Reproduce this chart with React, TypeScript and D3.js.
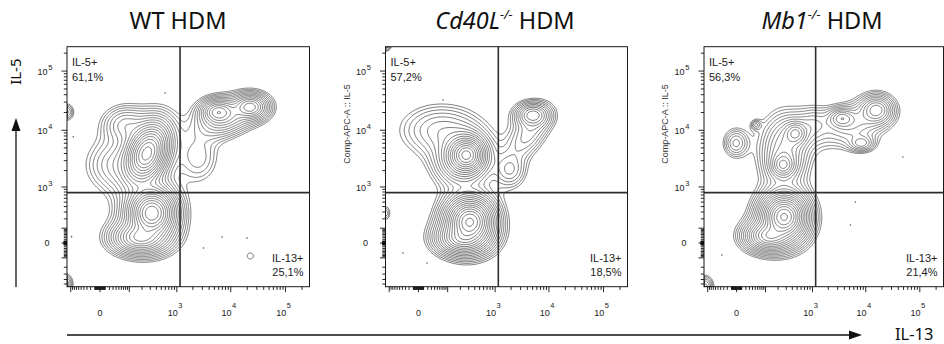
import { useMemo } from 'react'
import * as d3 from 'd3'

const W = 944
const H = 344

// biexponential channel display, approximated with a symlog scale
const IL13_DOMAIN = [-124, 274000]
const IL5_DOMAIN = [-570, 257000]
const IL13_CONST = 41.3
const IL5_CONST = 129

const GATE_IL13 = 1150
const GATE_IL5 = 780

const TITLES = ['WT', 'Cd40L', 'Mb1']
const IL5_PCT = ['61,1%', '57,2%', '56,3%']
const IL13_PCT = ['25,1%', '18,5%', '21,4%']
const Y_TITLES = ['', 'Comp-APC-A :: IL-5', 'Comp-APC-A :: IL-5']
const LABELLED_TICKS = [0, 1e3, 1e4, 1e5]

// populations: [IL-13, IL-5, sd IL-13 (decades), sd IL-5 (decades), correlation, relative density]
const WT_POPS = [
  [254, 4000, 0.155, 0.195, 0.3, 1.0],
  [36, 2510, 0.3, 0.25, 0, 0.035],
  [77, 12300, 0.22, 0.17, 0, 0.05],
  [323, 283, 0.165, 0.16, 0, 1.1],
  [181, 30, 0.22, 0.12, 0, 0.3],
  [5890, 20400, 0.15, 0.1, 0, 0.2],
  [22760, 24800, 0.15, 0.1, 0, 0.2],
  [7920, 14900, 0.29, 0.17, 0.4, 0.06],
  [2515, 3330, 0.22, 0.25, 0, 0.025],
  [-124, 20400, 0.075, 0.085, 0, 0.03],
  [-131, -501, 0.075, 0.1, 0, 0.035],
  [22760, -84, 0.09, 0.085, 0, 0.012],
]
const CD40L_POPS = [
  [270, 3760, 0.137, 0.126, 0, 0.7],
  [317, 165, 0.165, 0.155, 0, 1.2],
  [216, 25, 0.2, 0.115, 0, 0.3],
  [61, 10100, 0.4, 0.235, 0, 0.04],
  [196, 3070, 0.24, 0.22, 0, 0.08],
  [5040, 18100, 0.15, 0.1, 0, 0.12],
  [4105, 8300, 0.22, 0.235, 0.5, 0.04],
  [1904, 2050, 0.165, 0.17, 0, 0.035],
  [-121, 274000, 0.064, 0.067, 0, 0.03],
  [-124, 283, 0.064, 0.085, 0, 0.02],
]
const MB1_POPS = [
  [270, 228, 0.16, 0.15, 0, 1.2],
  [124, 40, 0.19, 0.11, 0, 0.35],
  [257, 2510, 0.11, 0.1, 0, 0.15],
  [468, 8880, 0.11, 0.1, 0, 0.12],
  [270, 4590, 0.22, 0.3, 0, 0.08],
  [-1, 6050, 0.13, 0.135, 0, 0.04],
  [53, 12300, 0.055, 0.05, 0, 0.025],
  [3585, 15960, 0.13, 0.085, 0, 0.08],
  [15780, 22050, 0.15, 0.12, 0, 0.12],
  [8370, 5990, 0.13, 0.076, 0, 0.05],
  [5890, 12300, 0.33, 0.2, 0.3, 0.04],
  [1060, 12300, 0.18, 0.17, 0, 0.03],
  [-117, -552, 0.09, 0.1, 0, 0.04],
]

// single outlying events: [IL-13, IL-5]
const WT_EVENTS = [[6890, 34], [19800, 27], [3150, -27], [-86, 7770], [596, 42700], [-95, 36]]
const CD40L_EVENTS = [[-38, -61], [18, -151], [75, 32500]]
const MB1_EVENTS = [[48600, 3470], [6410, 501], [5190, 130], [-36, -76]]

const POPS = [WT_POPS, CD40L_POPS, MB1_POPS]
const EVENTS = [WT_EVENTS, CD40L_EVENTS, MB1_EVENTS]

const LEVELS = d3.range(22).map(k => 0.01 * Math.pow(1.3, k))

const PANEL_LEFT = [67, 385.5, 704]
const PANEL_W = [242.5, 242, 239.5]
const TOP = 46.7
const PLOT_H = 240
const TITLE_X = [178, 505, 822]

const AXIS_FONT = '"Liberation Sans", Arial, sans-serif'
const TITLE_FONT = '"Noto Sans", "Open Sans", sans-serif'

function tickValues(domain) {
  const out = [{ v: 0, major: true }]
  for (let k = 0; k <= 5; k++) {
    for (let m = 1; m <= 9; m++) {
      const v = m * Math.pow(10, k)
      for (const s of [1, -1]) {
        const t = s * v
        if (t >= domain[0] && t <= domain[1]) out.push({ v: t, major: m === 1 && k >= 2 })
      }
    }
  }
  return out
}

function Panel({ idx }) {
  const left = PANEL_LEFT[idx]
  const w = PANEL_W[idx]
  const x = d3.scaleSymlog().constant(IL13_CONST).domain(IL13_DOMAIN).range([0, w])
  const y = d3.scaleSymlog().constant(IL5_CONST).domain(IL5_DOMAIN).range([PLOT_H, 0])

  const paths = useMemo(() => {
    const nx = Math.ceil(w)
    const ny = PLOT_H
    const decX = x(1e5) - x(1e4)
    const decY = y(1e4) - y(1e5)
    const comps = POPS[idx].map(([a, b, sa, sb, rho, wt]) => ({
      cx: x(a), cy: y(b), sx: sa * decX, sy: sb * decY, rho, wt,
    }))
    const values = new Float64Array(nx * ny)
    for (let j = 0; j < ny; j++) {
      for (let i = 0; i < nx; i++) {
        let d = 0
        for (const c of comps) {
          const u = (i + 0.5 - c.cx) / c.sx
          const v = -(j + 0.5 - c.cy) / c.sy
          const q = (u * u - 2 * c.rho * u * v + v * v) / (1 - c.rho * c.rho)
          // heavy-tailed (student-t like) kernel
          d += c.wt * Math.pow(1 + q / 8, -4)
        }
        values[j * nx + i] = d
      }
    }
    const gen = d3.contours().size([nx, ny]).thresholds(LEVELS)
    const path = d3.geoPath()
    return gen(values).map(c => path(c)).filter(Boolean)
  }, [idx])

  const xTicks = tickValues(IL13_DOMAIN)
  const yTicks = tickValues(IL5_DOMAIN)
  const gx = x(GATE_IL13)
  const gy = y(GATE_IL5)

  return (
    <g transform={`translate(${left},${TOP})`}>
      <defs>
        <clipPath id={`clip${idx}`}>
          <rect x={0} y={0} width={w} height={PLOT_H} />
        </clipPath>
      </defs>
      <g clipPath={`url(#clip${idx})`}>
        {paths.map((d, k) => (
          <path key={k} d={d} fill="none" stroke="#2a2a2a" strokeWidth={0.6} />
        ))}
        {EVENTS[idx].map(([a, b], k) => (
          <circle key={k} cx={x(a)} cy={y(b)} r={0.8} fill="#555" />
        ))}
      </g>
      <line x1={gx} x2={gx} y1={0} y2={PLOT_H} stroke="#2e2e2e" strokeWidth={1.6} />
      <line x1={0} x2={w} y1={gy} y2={gy} stroke="#2e2e2e" strokeWidth={1.6} />
      <rect x={0} y={0} width={w} height={PLOT_H} fill="none" stroke="#1a1a1a" strokeWidth={1} />

      {xTicks.map((t, k) => (
        <line key={k} x1={x(t.v)} x2={x(t.v)} y1={PLOT_H} y2={PLOT_H + (t.major ? 5.5 : 3.2)}
          stroke="#111" strokeWidth={0.9} />
      ))}
      {yTicks.map((t, k) => (
        <line key={k} x1={0} x2={-(t.major ? 5.5 : 3.2)} y1={y(t.v)} y2={y(t.v)}
          stroke="#111" strokeWidth={0.9} />
      ))}

      <g fontFamily={AXIS_FONT} fill="#222">
        {LABELLED_TICKS.map(v => {
          const px = x(v)
          if (v === 0) return <text key={v} x={px} y={PLOT_H + 29.5} fontSize={9} textAnchor="middle">0</text>
          return (
            <g key={v}>
              <text x={px + 0.8} y={PLOT_H + 29.5} fontSize={9} textAnchor="end">10</text>
              <text x={px + 1.3} y={PLOT_H + 21.5} fontSize={7.5}>{Math.round(Math.log10(v))}</text>
            </g>
          )
        })}
        {LABELLED_TICKS.map(v => {
          const py = y(v)
          if (v === 0) return <text key={v} x={-20} y={py + 3.2} fontSize={9} textAnchor="middle">0</text>
          return (
            <g key={v}>
              <text x={-19.5} y={py + 3.6} fontSize={9} textAnchor="end">10</text>
              <text x={-18.8} y={py - 1.2} fontSize={7.5}>{Math.round(Math.log10(v))}</text>
            </g>
          )
        })}
        <text x={5} y={19.8} fontSize={11}>IL-5+</text>
        <text x={5} y={34.8} fontSize={11}>{IL5_PCT[idx]}</text>
        <text x={w - 6} y={215.3} fontSize={11} textAnchor="end">IL-13+</text>
        <text x={w - 6} y={229.8} fontSize={11} textAnchor="end">{IL13_PCT[idx]}</text>
        {Y_TITLES[idx] && (
          <text transform={`translate(-36,${124 - TOP}) rotate(-90)`} fontSize={9} textAnchor="middle" fill="#333">
            {Y_TITLES[idx]}
          </text>
        )}
      </g>
    </g>
  )
}

export default function App() {
  return (
    <svg width={W} height={H} style={{ display: 'block', position: 'absolute', left: 0, top: 0 }}>
      <rect width={W} height={H} fill="#fff" />
      {TITLES.map((t, i) => (
        <text key={i} x={TITLE_X[i]} y={28.5} fontFamily={TITLE_FONT} fontSize={23.5} textAnchor="middle" fill="#111">
          {i === 0 ? (
            <tspan>{t} HDM</tspan>
          ) : (
            <>
              <tspan fontStyle="italic">{t}</tspan>
              <tspan fontStyle="italic" fontSize={13} dy={-10}>-/-</tspan>
              <tspan dy={10}> HDM</tspan>
            </>
          )}
        </text>
      ))}
      {[0, 1, 2].map(i => <Panel key={i} idx={i} />)}

      <g fontFamily={TITLE_FONT} fill="#111">
        <text transform="translate(21,71.7) rotate(-90)" fontSize={15} textAnchor="middle">IL-5</text>
        <text x={895} y={340} fontSize={16.5}>IL-13</text>
      </g>
      <line x1={16} x2={16} y1={287} y2={128} stroke="#111" strokeWidth={1.3} />
      <path d="M16,118 L11.5,131 L20.5,131 Z" fill="#111" />
      <line x1={67} x2={852} y1={335} y2={335} stroke="#111" strokeWidth={1.3} />
      <path d="M862,335 L849,330.5 L849,339.5 Z" fill="#111" />
    </svg>
  )
}
